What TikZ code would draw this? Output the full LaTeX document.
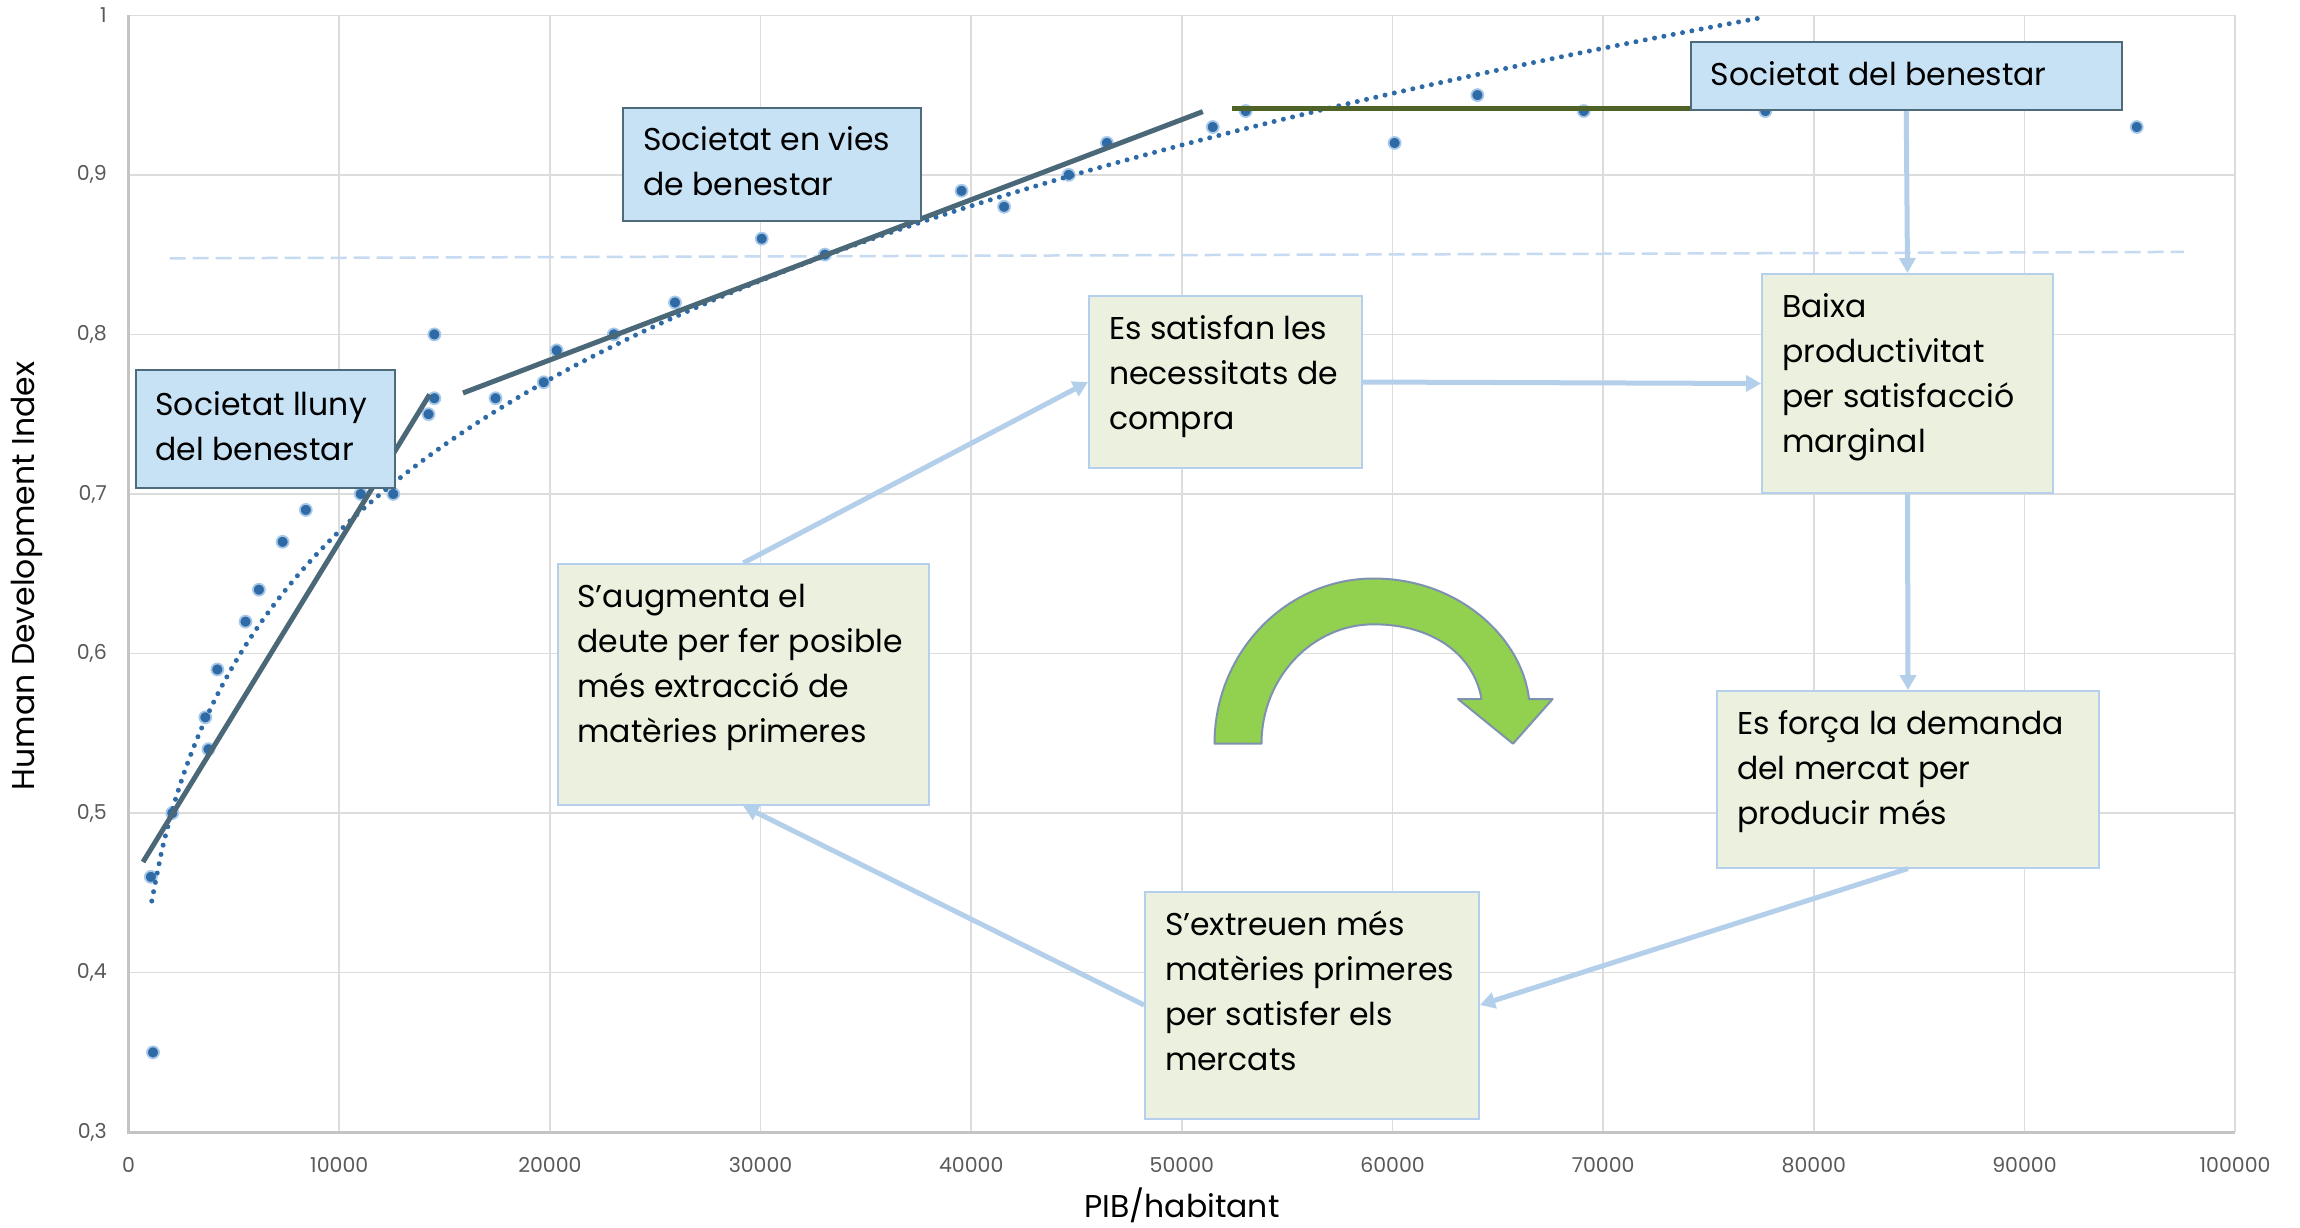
\documentclass[tikz,border=0pt]{standalone}
\usepackage{fontspec}
\setmainfont{Poppins}
\usetikzlibrary{arrows.meta}
\definecolor{gridc}{HTML}{DCDCDC}
\definecolor{axisc}{HTML}{C4C4C4}
\definecolor{tickc}{HTML}{595959}
\definecolor{dotc}{HTML}{2E6BA6}
\definecolor{haloc}{HTML}{A8C8E8}
\definecolor{trendc}{HTML}{4A6878}
\definecolor{olivec}{HTML}{4F6228}
\definecolor{bluefill}{HTML}{C8E2F5}
\definecolor{blueedge}{HTML}{4D6B7B}
\definecolor{greenfill}{HTML}{EBF1DE}
\definecolor{greenedge}{HTML}{B4D0EC}
\definecolor{arrowc}{HTML}{B4CFEA}
\definecolor{dashc}{HTML}{C6DAF1}
\definecolor{uarrowfill}{HTML}{92D050}
\definecolor{uarrowedge}{HTML}{7E92B0}
\newcommand{\mybfont}{\fontsize{31.5}{45}\selectfont}
\newcommand{\mybx}[4]{\parbox[c][#2][#3]{#1}{\strut #4\strut}}
\begin{document}
\begin{tikzpicture}[x=1pt,y=-1pt,
  gridline/.style={draw=gridc, line width=1.6pt},
  axisline/.style={draw=axisc, line width=2.6pt},
  ticklab/.style={font=\fontsize{20.5}{24}\selectfont, text=tickc, inner sep=0pt},
  axtitle/.style={font=\fontsize{31.5}{36}\selectfont, text=black, inner sep=0pt},
  dotstyle/.style={fill=dotc, draw=haloc, line width=1.8pt},
  trendline/.style={draw=trendc, line width=5pt},
  bluebox/.style={draw=blueedge, line width=2pt, fill=bluefill, anchor=north west, inner xsep=20pt, inner ysep=0pt, font=\mybfont},
  greenbox/.style={draw=greenedge, line width=2pt, fill=greenfill, anchor=north west, inner xsep=20pt, inner ysep=12pt, font=\mybfont},
  flow/.style={draw=arrowc, line width=5pt, -{Triangle[length=15pt,width=16pt]}},
  uarrow/.style={fill=uarrowfill, draw=uarrowedge, line width=2pt, line join=round}
]
\useasboundingbox (0,0) rectangle (2300,1227);
\fill[white] (0,0) rectangle (2300,1227);

% grid
\foreach \k in {1,...,10}
  \draw[gridline] ({128.6+210.65*\k},15.3) -- ({128.6+210.65*\k},1132.2);
\foreach \k in {0,...,6}
  \draw[gridline] (128.6,{15.3+159.55*\k}) -- (2235,{15.3+159.55*\k});
\draw[axisline] (128.6,15.3) -- (128.6,1132.2) -- (2235,1132.2);

% tick labels
\foreach \lab [count=\k from 0] in {1,{0,9},{0,8},{0,7},{0,6},{0,5},{0,4},{0,3}}
  \node[ticklab, anchor=east] (ytick\k) at (107,{15.3+159.55*\k}) {\lab};
\foreach \lab [count=\k from 0] in {0,10000,20000,30000,40000,50000,60000,70000,80000,90000,100000}
  \node[ticklab] (xtick\k) at ({128.6+210.65*\k},1165) {\lab};

% axis titles
\node[axtitle] (xtitle) at (1182,1205) {PIB/habitant};
\node[axtitle, rotate=90] (ytitle) at (27,576) {Human Development Index};

% dashed reference line
\draw[draw=dashc, line width=2.5pt, dash pattern=on 16pt off 7pt] (169.6,258.3) -- (2184,251.9);

% scatter points (GDP in thousands)
\foreach \v/\h in {1.058/0.46, 1.158/0.35, 2.075/0.50, 3.642/0.56, 3.792/0.54, 4.215/0.59, 5.550/0.62,
  6.186/0.64, 7.311/0.67, 8.412/0.69, 11.018/0.70, 12.565/0.70, 14.237/0.75, 14.514/0.76, 14.514/0.80,
  17.418/0.76, 19.706/0.77, 20.322/0.79, 23.034/0.80, 25.939/0.82, 30.056/0.86, 33.054/0.85,
  39.540/0.89, 41.562/0.88, 44.630/0.90, 46.443/0.92, 51.466/0.93, 53.030/0.94, 60.100/0.92,
  64.030/0.95, 69.080/0.94, 77.700/0.94, 95.330/0.93}
  \draw[dotstyle] ({128.6+21.065*\v},{15.3+1595.5*(1-\h)}) circle (6pt);

% dotted power trend
\draw[dotc, line width=5pt, line cap=round, dash pattern=on 0pt off 9.5pt]
  plot[domain=1.1:77.7, samples=160, smooth] ({128.6+21.065*\x},{15.3+1595.5*(1-0.4369*(\x)^0.19)});

% segment trend lines
\draw[trendline] (143,862) -- (429.6,394.5);
\draw[trendline] (463,393) -- (1202.8,111.6);
\draw[draw=olivec, line width=5pt] (1232,108.5) -- (2101,108.5);

% U-turn arrow
\draw[uarrow] (1214.5,743.7) .. controls (1214.5,652.5) and (1286,578.5) .. (1373.7,578.5)
  .. controls (1459,578.5) and (1522,638) .. (1529,699) -- (1552.6,699) -- (1513,743.7)
  -- (1458,699) -- (1481.5,699) .. controls (1474,655) and (1433,624.3) .. (1373.7,624.3)
  .. controls (1312,624.3) and (1261.5,678) .. (1261.5,743.7) -- cycle;

% blue boxes
\node[bluebox] (lluny) at (134.5,369) {\mybx{219pt}{117.5pt}{c}{\mbox{Societat lluny}\\\mbox{del benestar}}};
\node[bluebox] (vies) at (622,106.5) {\mybx{258pt}{113pt}{c}{\mbox{Societat en vies}\\\mbox{de benestar}}};
\node[bluebox] (benestar) at (1689.5,41) {\mybx{391.5pt}{68pt}{c}{\mbox{Societat del benestar}}};

% green boxes
\node[greenbox] (satisfan) at (1088,295) {\mybx{233pt}{148pt}{t}{\mbox{Es satisfan les}\\\mbox{necessitats de}\\\mbox{compra}}};
\node[greenbox] (augmenta) at (556.5,563) {\mybx{331.5pt}{217pt}{t}{\mbox{S’augmenta el}\\\mbox{deute per fer posible}\\\mbox{més extracció de}\\\mbox{matèries primeres}}};
\node[greenbox] (baixa) at (1761,273) {\mybx{251pt}{195pt}{t}{\mbox{Baixa}\\\mbox{productivitat}\\\mbox{per satisfacció}\\\mbox{marginal}}};
\node[greenbox] (forca) at (1716,690) {\mybx{342pt}{152.5pt}{t}{\mbox{Es força la demanda}\\\mbox{del mercat per}\\\mbox{producir més}}};
\node[greenbox] (extreuen) at (1144,890.5) {\mybx{294pt}{203pt}{t}{\mbox{S’extreuen més}\\\mbox{matèries primeres}\\\mbox{per satisfer els}\\\mbox{mercats}}};

% flow arrows
\draw[flow] (augmenta.north) -- (satisfan.west);
\draw[flow] (satisfan.east) -- (baixa.west);
\draw[flow] (benestar.south) -- (baixa.north);
\draw[flow] (baixa.south) -- (forca.north);
\draw[flow] (forca.south) -- (extreuen.east);
\draw[flow] (extreuen.west) -- (augmenta.south);
\end{tikzpicture}
\end{document}
